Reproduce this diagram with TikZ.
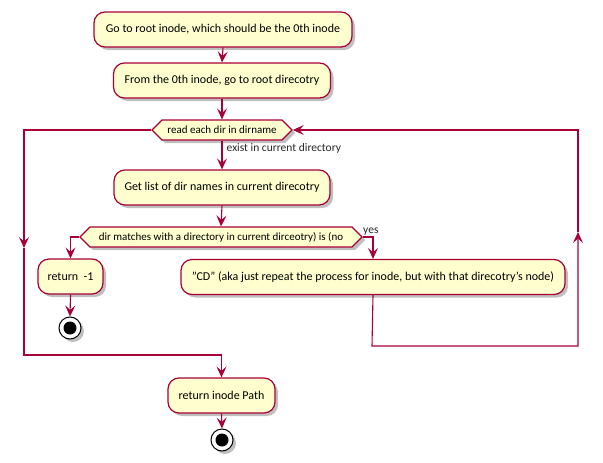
\documentclass[tikz,border=0pt]{standalone}
\usepackage{fontspec}
\setmainfont{Carlito}
\usetikzlibrary{arrows.meta,shapes.symbols,shadows}
\definecolor{pfill}{HTML}{FEFECE}
\definecolor{pline}{HTML}{A80036}
\begin{document}
\begin{tikzpicture}[x=1pt,y=-1pt,
  shad/.style={drop shadow={shadow xshift=3pt,shadow yshift=-3pt,opacity=0.25,fill=black}},
  act/.style={draw=pline, fill=pfill, line width=1.2pt, rounded corners=11pt,
    minimum height=35pt, inner xsep=0pt, font=\fontsize{12}{14}\selectfont, shad},
  hex/.style={signal, signal to=east and west, signal pointer angle=90,
    draw=pline, fill=pfill, line width=1.2pt, minimum height=20pt, inner ysep=0pt,
    inner xsep=0pt, font=\fontsize{11}{12}\selectfont, shad},
  stopnode/.style={circle, draw=black, fill=white, line width=1pt, minimum size=22pt,
    inner sep=0pt, shad,
    path picture={\fill[black] (path picture bounding box.center) circle (6.5pt);}},
  lnk/.style={draw=pline, line width=1.1pt},
  arr/.style={-{Stealth[length=11pt,width=10pt,inset=4.5pt]}},
  lbl/.style={font=\fontsize{11.5}{13}\selectfont, inner sep=0pt, text=black!85}
]
\useasboundingbox (0,0) rectangle (603,463);

\node[act, minimum width=258pt] (b1) at (223,29.5) {Go to root inode, which should be the 0th inode};
\node[act, minimum width=217pt] (b2) at (222,80.5) {From the 0th inode, go to root direcotry};
\node[hex, minimum width=140pt] (h1) at (222,130) {read each dir in dirname};
\node[act, minimum width=216pt] (b3) at (222,187.5) {Get list of dir names in current direcotry};
\node[hex, minimum width=282pt] (h2) at (221,237) {dir matches with a directory in current dirceotry) is (no};
\node[act, minimum width=65pt] (r1) at (70.5,276.5) {return \ -1};
\node[stopnode] (s1) at (70,328) {};
\node[act, minimum width=384pt] (cd) at (373,277) {\symbol{34}CD\symbol{34} (aka just repeat the process for inode, but with that direcotry's node)};
\node[act, minimum width=107pt] (b4) at (221.5,395.5) {return inode Path};
\node[stopnode] (s2) at (222,440) {};

\node[lbl, anchor=west] (l1) at (226.5,148) {exist in current directory};
\node[lbl, anchor=west] (l2) at (363,232) {yes};

\coordinate (L1) at (24,130);
\coordinate (L2) at (24,248);
\coordinate (L3) at (24,355);
\coordinate (R1) at (372,346);
\coordinate (R2) at (578,346);
\coordinate (R3) at (578,232);
\coordinate (R4) at (578,130);

\draw[lnk, arr] (b1.south) -- (b2.north);
\draw[lnk, arr] (b2.south) -- (h1.north);
\draw[lnk, arr] (h1.south) -- (b3.north);
\draw[lnk, arr] (b3.south) -- (h2.north);
\draw[lnk, arr] (h2.west) -| (r1.north);
\draw[lnk, arr] (r1.south) -- (s1.north);
\draw[lnk, arr] (h2.east) -| (cd.north);
\draw[lnk, arr] (cd.south) -- (R1) -- (R2) -- (R3);
\draw[lnk, arr] (R3) -- (R4) -- (h1.east);
\draw[lnk, arr] (h1.west) -- (L1) -- (L2);
\draw[lnk, arr] (L2) -- (L3) -| (b4.north);
\draw[lnk, arr] (b4.south) -- (s2.north);
\end{tikzpicture}
\end{document}
